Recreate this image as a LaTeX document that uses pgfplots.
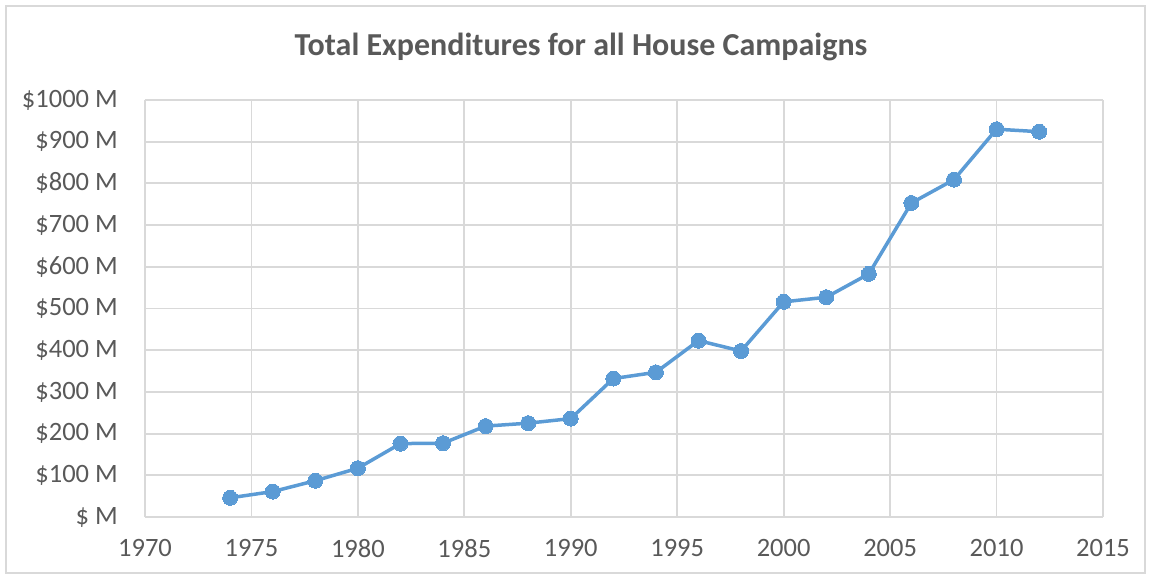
\documentclass[border=0pt]{standalone}
\usepackage{pgfplots}
\pgfplotsset{compat=1.18}
\usepackage{fontspec}
\setmainfont{Carlito}
\definecolor{linecol}{HTML}{5B9BD5}
\definecolor{txtgray}{HTML}{595959}
\definecolor{gridgray}{HTML}{D9D9D9}
\begin{document}
\begin{tikzpicture}[x=1pt,y=1pt]
\path[use as bounding box] (0,0) rectangle (1151,579);
\draw[gridgray, line width=1.5pt] (6,6) rectangle (1145,573);
\node[text=txtgray, font=\fontsize{32}{38}\selectfont\bfseries] at (581,532) {Total Expenditures for all House Campaigns};
\begin{axis}[
  at={(145pt,62pt)}, anchor=south west,
  scale only axis, width=958pt, height=417pt,
  xmin=1970, xmax=2015, ymin=0, ymax=1000,
  xtick={1970,1975,...,2015},
  xticklabels={1970,1975,1980,1985,1990,1995,2000,2005,2010,2015},
  ytick={0,100,...,1000},
  yticklabels={\$ M,\$100 M,\$200 M,\$300 M,\$400 M,\$500 M,\$600 M,\$700 M,\$800 M,\$900 M,\$1000 M},
  major tick length=0pt,
  grid=major,
  major grid style={gridgray, line width=1.8pt},
  axis line style={gridgray, line width=1.8pt},
  axis x line*=bottom, axis y line*=left,
  separate axis lines,
  x axis line style={-}, y axis line style={-},
  tick label style={text=txtgray, font=\fontsize{26.5}{31}\selectfont, inner sep=0pt},
  yticklabel style={anchor=east, xshift=-27pt},
  xticklabel style={anchor=north, yshift=-22pt},
  clip=false,
]
\addplot[color=linecol, line width=3.5pt, mark=*, mark size=7.5pt, mark options={fill=linecol, draw=linecol, line width=0pt}]
coordinates {
(1974,46) (1976,61) (1978,87) (1980,117) (1982,176) (1984,177) (1986,218) (1988,225) (1990,236)
(1992,332) (1994,347) (1996,423) (1998,398) (2000,516) (2002,527) (2004,583) (2006,753) (2008,809)
(2010,930) (2012,924)
};
\end{axis}
\end{tikzpicture}
\end{document}
